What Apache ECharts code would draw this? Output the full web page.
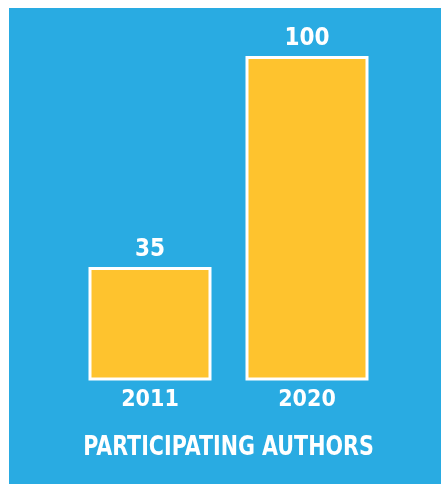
<!DOCTYPE html>
<html>
<head>
<meta charset="utf-8">
<script src="https://cdn.jsdelivr.net/npm/echarts@6/dist/echarts.min.js"></script>
<style>
html,body{margin:0;padding:0;background:#ffffff;width:441px;height:484px;overflow:hidden;}
#c{position:absolute;left:9px;top:8px;width:432px;height:476px;}
</style>
</head>
<body>
<div id="c"></div>
<script>
const categories = ['2011', '2020'];
const authors = [35, 100];
const titleText = 'PARTICIPATING AUTHORS';

const FONT = '"Liberation Sans Narrow", "Arial Narrow", "DejaVu Sans Condensed", sans-serif';
const chart = echarts.init(document.getElementById('c'), null, {renderer: 'canvas'});
chart.setOption({
  backgroundColor: '#29ABE2',
  animation: false,
  graphic: [{
    type: 'text',
    x: 219.5,
    y: 439.5,
    scaleX: 0.85,
    style: {
      text: titleText,
      fill: '#ffffff',
      font: 'bold 27px ' + FONT,
      align: 'center',
      verticalAlign: 'middle'
    }
  }],
  grid: {left: 62.5, right: 55.5, top: 48, bottom: 103.5, containLabel: false},
  xAxis: {
    type: 'category',
    data: categories,
    axisLine: {show: false},
    axisTick: {show: false},
    axisLabel: {color: '#ffffff', fontFamily: FONT, fontWeight: 'bold', fontSize: 23, margin: 8}
  },
  yAxis: {
    type: 'value',
    min: 0, max: 100,
    show: false,
    splitLine: {show: false}
  },
  series: [{
    type: 'bar',
    data: authors,
    barWidth: 123,
    itemStyle: {color: '#FEC32E', borderColor: '#ffffff', borderWidth: 3},
    label: {
      show: true, position: 'top', distance: 5,
      color: '#ffffff', fontFamily: FONT, fontWeight: 'bold', fontSize: 24
    }
  }]
});
</script>
</body>
</html>
